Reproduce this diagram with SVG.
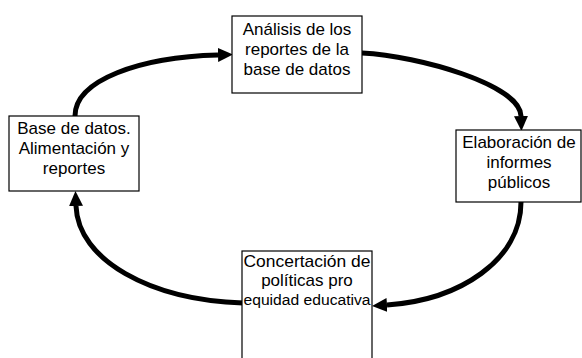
<svg xmlns="http://www.w3.org/2000/svg" width="582" height="358" viewBox="0 0 582 358">
<style>
.box{fill:#fff;stroke:#000;stroke-width:1.2}
.t{font-family:"Liberation Sans",Arial,sans-serif;font-size:17px;fill:#000;text-anchor:middle}
.arr{fill:none;stroke:#000;stroke-width:5;marker-end:url(#ah)}
</style>
<defs>
<marker id="ah" markerUnits="userSpaceOnUse" markerWidth="15" markerHeight="14" refX="0" refY="7" orient="auto">
<path d="M0,0 L15,7 L0,14 z" fill="#000"/>
</marker>
</defs>
<rect width="582" height="358" fill="#fff"/>
<g id="connectors">
<path class="arr" d="M75,116 C75,80 140,57 218,55"/>
<path class="arr" d="M362,53 C420,56 520,85 521,116"/>
<path class="arr" d="M521,202 C521,260 460,300 387,305"/>
<path class="arr" d="M243,303 C150,300 78,260 76,206"/>
</g>
<g id="analisis">
<rect class="box" x="232" y="16" width="130" height="77"/>
<text class="t" x="297" y="35">Análisis de los</text>
<text class="t" x="297" y="55">reportes de la</text>
<text class="t" x="297" y="75">base de datos</text>
</g>
<g id="base">
<rect class="box" x="9" y="116" width="130" height="75"/>
<text class="t" x="74" y="134">Base de datos.</text>
<text class="t" x="74" y="154">Alimentación y</text>
<text class="t" x="74" y="174">reportes</text>
</g>
<g id="elaboracion">
<rect class="box" x="456" y="130" width="125" height="72"/>
<text class="t" x="519" y="148">Elaboración de</text>
<text class="t" x="519" y="168">informes</text>
<text class="t" x="519" y="188">públicos</text>
</g>
<g id="concertacion">
<rect class="box" x="242" y="251" width="130" height="120"/>
<text class="t" x="307" y="267" textLength="127" lengthAdjust="spacingAndGlyphs">Concertación de</text>
<text class="t" x="307" y="286">políticas pro</text>
<text class="t" x="307" y="305" style="font-size:15.5px" textLength="127" lengthAdjust="spacingAndGlyphs">equidad educativa</text>
</g>
</svg>
